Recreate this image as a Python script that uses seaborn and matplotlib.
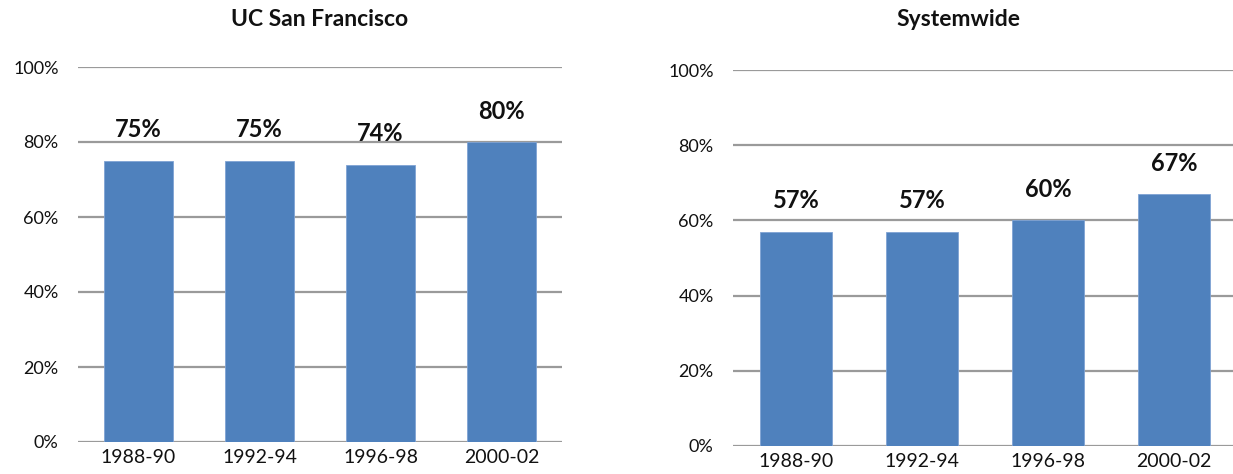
import matplotlib
matplotlib.use("Agg")
import pandas as pd
import seaborn as sns
import matplotlib.pyplot as plt

# data
periods = ["1988-90", "1992-94", "1996-98", "2000-02"]
ucsf_vals = [75, 75, 74, 80]
system_vals = [57, 57, 60, 67]
yticks = [0, 20, 40, 60, 80, 100]

bar_color = "#4F81BD"
grid_color = "#9A9A9A"

sns.set_theme(style="white")
plt.rcParams["font.family"] = ["Lato", "DejaVu Sans"]

fig = plt.figure(figsize=(12.33, 4.74), dpi=100)
ax1 = fig.add_axes([78 / 1233, 1 - 442 / 474, 484 / 1233, 375 / 474])
ax2 = fig.add_axes([733 / 1233, 1 - 446 / 474, 504 / 1233, 376 / 474])


def draw_panel(ax, vals):
    df = pd.DataFrame({"period": periods, "value": vals})
    sns.barplot(data=df, x="period", y="value", color=bar_color, width=0.57,
                saturation=1, edgecolor="#7FA3D4", linewidth=0.6, ax=ax)
    ax.set_ylim(0, 100)
    ax.set_xlim(-0.5, len(periods) - 0.5)
    ax.set_yticks(yticks)
    ax.set_yticklabels([f"{t}%" for t in yticks])
    ax.set_xlabel("")
    ax.set_ylabel("")
    ax.set_axisbelow(True)
    for t in yticks:
        ax.axhline(t, color=grid_color, lw=1.6, zorder=0)
    for s in ax.spines.values():
        s.set_visible(False)
    ax.tick_params(axis="y", length=0, pad=14, labelsize=13, labelcolor="#111111")
    ax.tick_params(axis="x", length=0, pad=5, labelsize=14, labelcolor="#111111")
    ax.bar_label(ax.containers[0], labels=[f"{v}%" for v in vals], padding=14,
                 fontsize=17, fontweight="bold", color="#111111")


draw_panel(ax1, ucsf_vals)
draw_panel(ax2, system_vals)

fig.text(320 / 1233, 1 - 20 / 474, "UC San Francisco", ha="center", va="center",
         fontsize=16.5, fontweight="bold", color="#111111")
fig.text(958 / 1233, 1 - 20 / 474, "Systemwide", ha="center", va="center",
         fontsize=16.5, fontweight="bold", color="#111111")

fig.savefig("out.png", dpi=100)
